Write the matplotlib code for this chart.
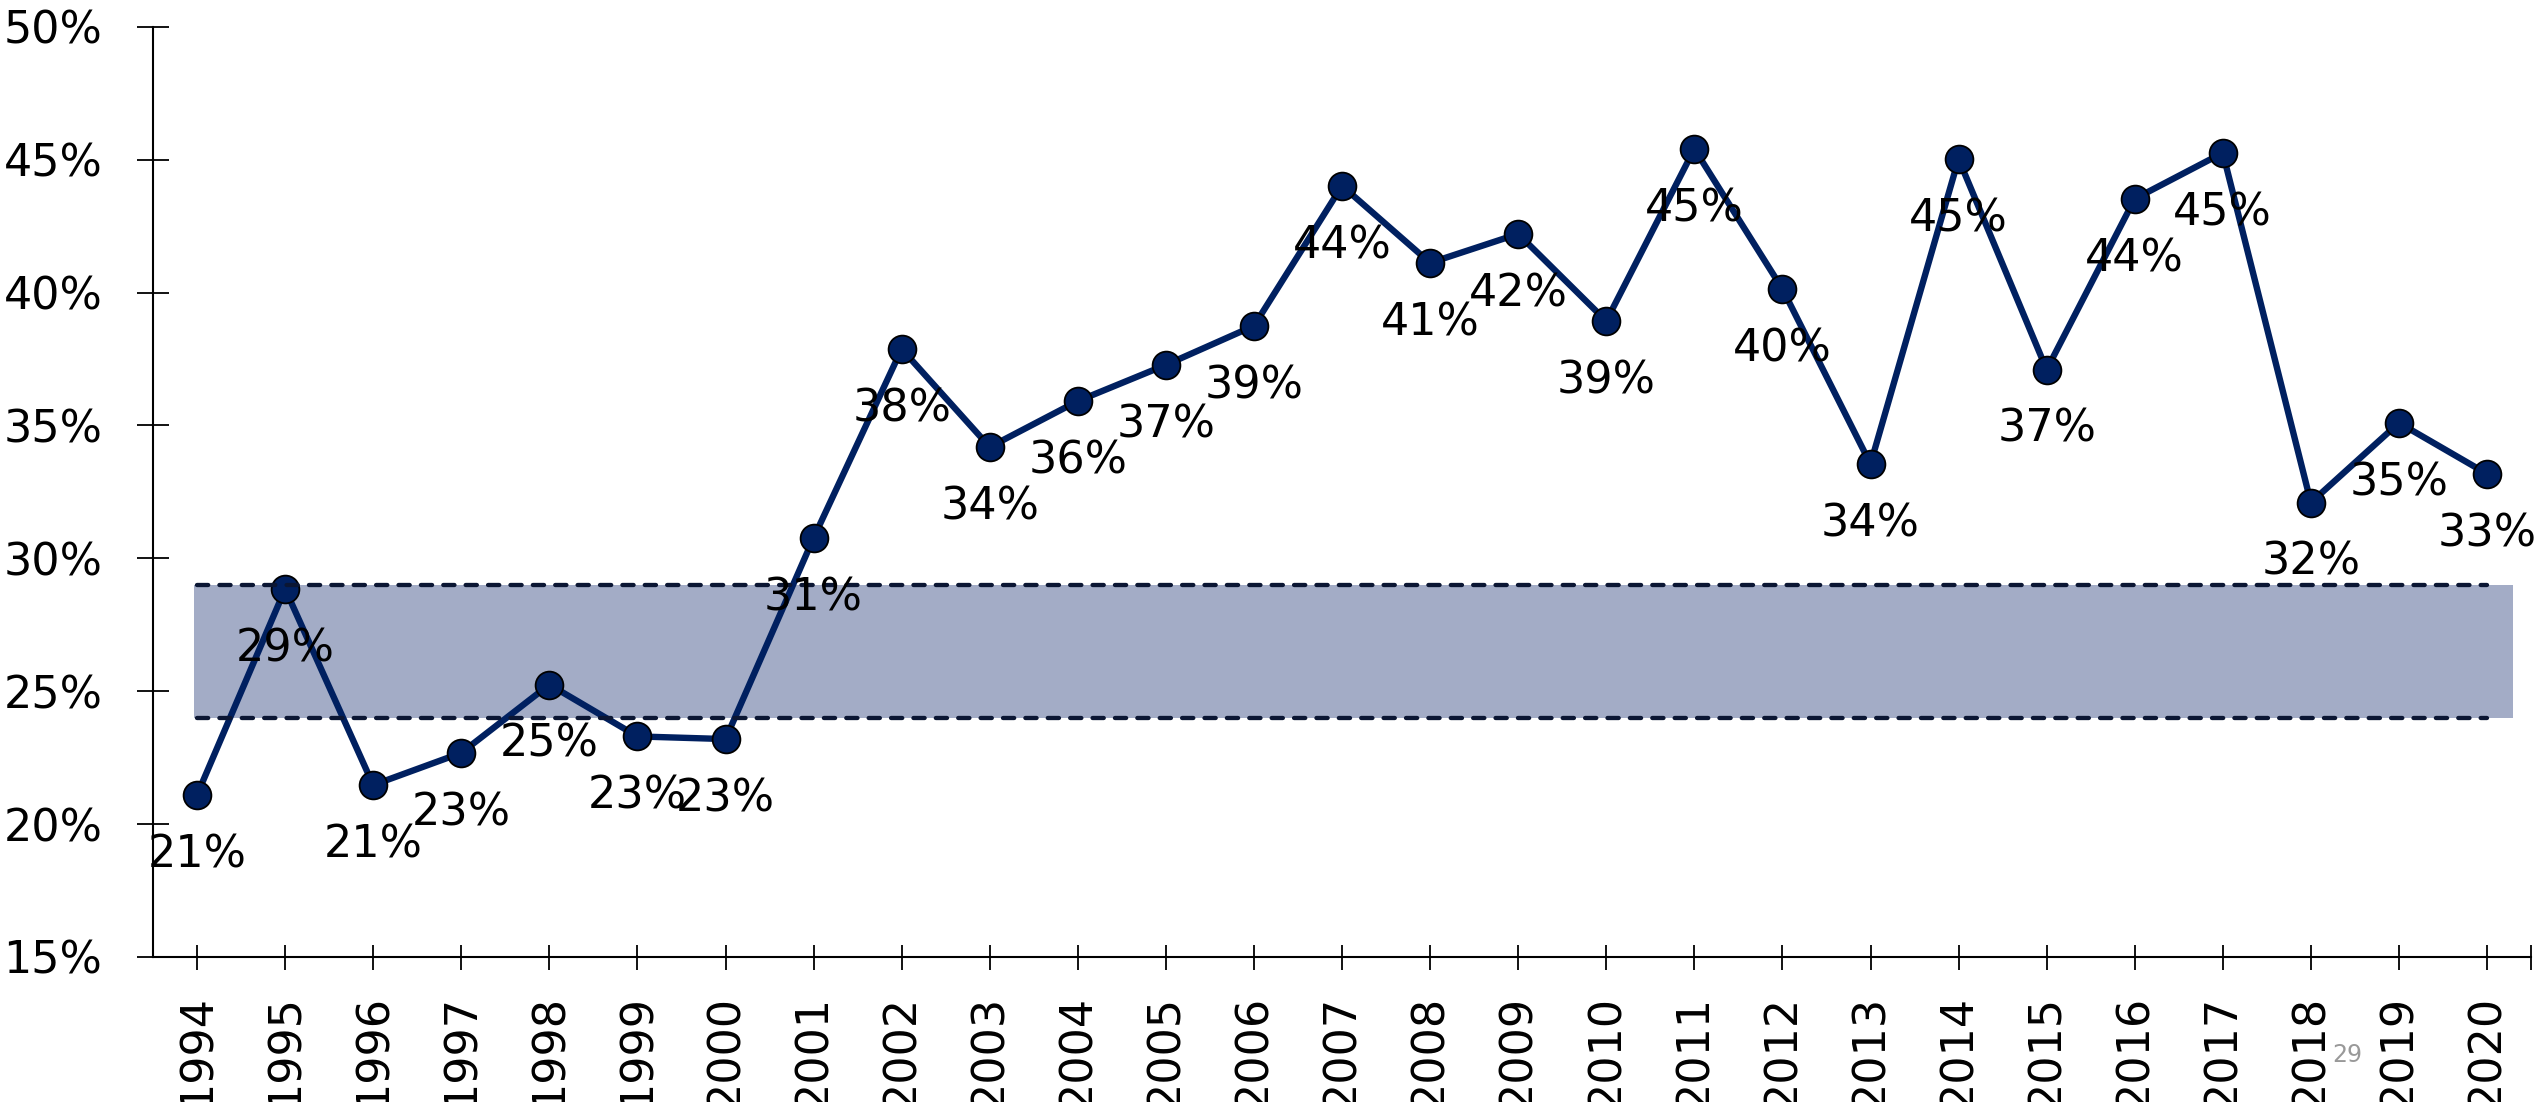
import matplotlib
matplotlib.use("Agg")
import matplotlib.pyplot as plt
from matplotlib.ticker import FuncFormatter

years = [str(y) for y in range(1994, 2021)]
share = [0.211, 0.2885, 0.2147, 0.2268, 0.2525, 0.2330, 0.2320, 0.3077, 0.3788,
         0.3419, 0.3592, 0.3728, 0.3875, 0.4402, 0.4112, 0.4221, 0.3893, 0.4541,
         0.4014, 0.3355, 0.4503, 0.3710, 0.4353, 0.4526, 0.3210, 0.3510, 0.3318]
band_low = 0.24
band_high = 0.29

LINE = "#002060"
BAND = "#a3acc6"
DASH = "#0b1633"

plt.rcParams["font.family"] = "DejaVu Sans"

fig = plt.figure(figsize=(25.42, 11.02), dpi=100)
ax = fig.add_axes([0.0602, 0.1316, 0.9355, 0.844])

x = list(range(len(years)))

# shaded range + dashed bounds
ax.fill_between([-0.035, 26.29], band_low, band_high, color=BAND, lw=0, zorder=1)
for lvl in (band_high, band_low):
    ax.plot([0, 26], [lvl, lvl], color=DASH, lw=3.1, ls=(0, (2.6, 2.6)),
            dash_capstyle="round", zorder=4)

# main series
ax.plot(x, share, color=LINE, lw=4.6, marker="o", ms=20,
        markerfacecolor=LINE, markeredgecolor="black", markeredgewidth=1.3, zorder=3)

for xi, v in zip(x, share):
    ax.annotate(f"{v:.0%}", (xi, v), xytext=(0, -43), textcoords="offset points",
                ha="center", va="center", fontsize=32, color="black", zorder=5)

ax.set_xlim(-0.5, 26.5)
ax.set_ylim(0.15, 0.50)
ax.set_yticks([0.15, 0.20, 0.25, 0.30, 0.35, 0.40, 0.45, 0.50])
ax.yaxis.set_major_formatter(FuncFormatter(lambda v, _: f"{v:.0%}"))
ax.set_xticks(x)
ax.set_xticklabels(years, rotation=90)
ax.set_xticks([26.5], minor=True)

for side in ["top", "right"]:
    ax.spines[side].set_visible(False)
for side in ["left", "bottom"]:
    ax.spines[side].set_linewidth(1.5)
    ax.spines[side].set_color("black")

ax.tick_params(axis="y", direction="inout", length=23, width=1.3, labelsize=32, pad=25)
ax.tick_params(axis="x", which="both", direction="inout", length=18, width=1.3,
               labelsize=32, pad=18)

fig.text(2347 / 2542, 1 - 1055 / 1102, "29", color="#999999", fontsize=17,
         ha="center", va="center")

fig.savefig("out.png", dpi=100)
